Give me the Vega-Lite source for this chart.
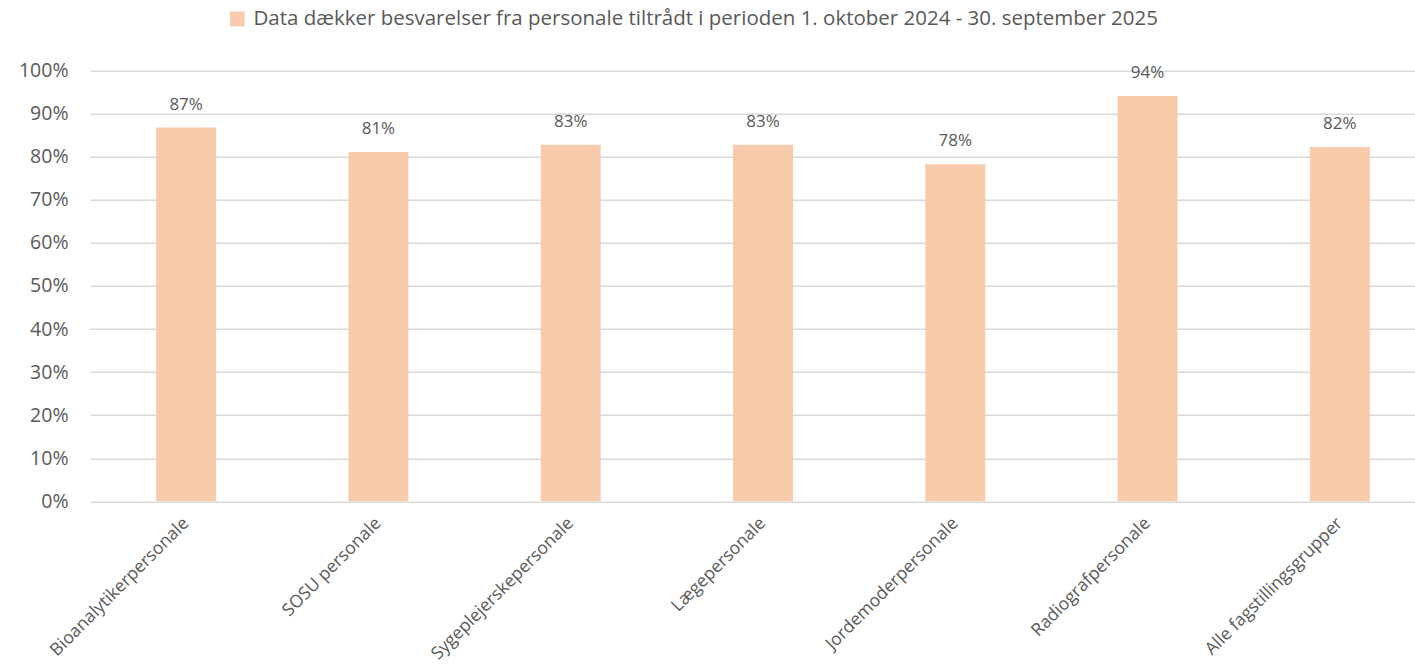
{
  "$schema": "https://vega.github.io/schema/vega-lite/v6.json",
  "autosize": "none",
  "width": 1346,
  "height": 430.6,
  "padding": {"left": 90, "top": 70.7, "right": 0, "bottom": 168},
  "background": "white",
  "config": {
    "font": "Open Sans",
    "view": {"stroke": null}
  },
  "data": {
    "values": [
      {"gruppe": "Bioanalytikerpersonale", "andel": 0.868, "serie": "Data dækker besvarelser fra personale tiltrådt i perioden 1. oktober 2024 - 30. september 2025"},
      {"gruppe": "SOSU personale", "andel": 0.811, "serie": "Data dækker besvarelser fra personale tiltrådt i perioden 1. oktober 2024 - 30. september 2025"},
      {"gruppe": "Sygeplejerskepersonale", "andel": 0.828, "serie": "Data dækker besvarelser fra personale tiltrådt i perioden 1. oktober 2024 - 30. september 2025"},
      {"gruppe": "Lægepersonale", "andel": 0.828, "serie": "Data dækker besvarelser fra personale tiltrådt i perioden 1. oktober 2024 - 30. september 2025"},
      {"gruppe": "Jordemoderpersonale", "andel": 0.783, "serie": "Data dækker besvarelser fra personale tiltrådt i perioden 1. oktober 2024 - 30. september 2025"},
      {"gruppe": "Radiografpersonale", "andel": 0.941, "serie": "Data dækker besvarelser fra personale tiltrådt i perioden 1. oktober 2024 - 30. september 2025"},
      {"gruppe": "Alle fagstillingsgrupper", "andel": 0.823, "serie": "Data dækker besvarelser fra personale tiltrådt i perioden 1. oktober 2024 - 30. september 2025"}
    ]
  },
  "encoding": {
    "x": {
      "field": "gruppe",
      "type": "nominal",
      "sort": null,
      "scale": {"paddingInner": 0.688, "paddingOuter": 0.344},
      "axis": {
        "title": null,
        "domain": false,
        "ticks": false,
        "labelAngle": -45,
        "labelAlign": "right",
        "labelBaseline": "middle",
        "labelPadding": 19,
        "labelFontSize": 17.5,
        "labelColor": "#595959",
        "labelLimit": 400
      }
    },
    "y": {
      "field": "andel",
      "type": "quantitative",
      "scale": {"domain": [0, 1], "nice": false},
      "axis": {
        "title": null,
        "format": ".0%",
        "values": [0, 0.1, 0.2, 0.3, 0.4, 0.5, 0.6, 0.7, 0.8, 0.9, 1],
        "labelOverlap": false,
        "domain": false,
        "ticks": false,
        "labelPadding": 22,
        "labelFontSize": 19.5,
        "labelColor": "#595959",
        "gridColor": "#d9d9d9",
        "gridWidth": 1.6
      }
    }
  },
  "layer": [
    {
      "mark": {"type": "bar"},
      "encoding": {
        "color": {
          "field": "serie",
          "type": "nominal",
          "scale": {"range": ["#f8cbad"]},
          "legend": {
            "title": null,
            "orient": "none",
            "legendX": 137,
            "legendY": -62,
            "symbolType": "square",
            "symbolSize": 220,
            "symbolStrokeWidth": 0,
            "labelFontSize": 20.5,
            "labelColor": "#595959",
            "labelLimit": 1200,
            "labelOffset": 6
          }
        }
      }
    },
    {
      "mark": {"type": "text", "baseline": "alphabetic", "dy": -18, "fontSize": 17, "color": "#595959"},
      "encoding": {
        "text": {"field": "andel", "type": "quantitative", "format": ".0%"}
      }
    }
  ]
}
